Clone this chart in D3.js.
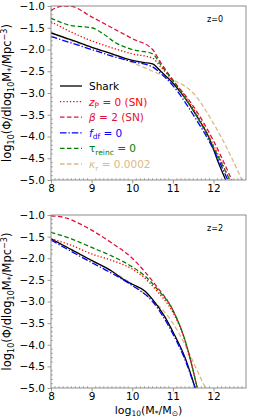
<!DOCTYPE html>
<html>
<head>
<meta charset="utf-8">
<script src="https://cdn.jsdelivr.net/npm/d3@7"></script>
<style>
  body { margin: 0; background: #fff; }
  svg { display: block; font-family: 'DejaVu Sans', sans-serif; }
</style>
</head>
<body>
<script>
// x / y ticks
const xTicks = [8, 9, 10, 11, 12];
const yTicks = [-1.0, -1.5, -2.0, -2.5, -3.0, -3.5, -4.0, -4.5, -5.0];
const panelLabels = ['z=0', 'z=2'];

// model variants (legend order)
const models = ['shark', 'zp', 'beta', 'fdf', 'tau', 'kappa'];

// z=0 mass functions, [log10 M*, log10 Phi]
const z0Shark = [[8,-1.62],[8.5,-1.78],[9,-1.95],[9.5,-2.1],[10,-2.25],[10.3,-2.3],[10.5,-2.33],[10.7,-2.5],[11,-2.77],[11.3,-3.12],[11.6,-3.55],[11.9,-4.05],[12.1,-4.55],[12.3,-5.0]];
const z0Zp = [[8,-1.36],[8.5,-1.6],[9,-1.8],[9.5,-1.96],[10,-2.1],[10.5,-2.2],[10.7,-2.4],[11,-2.72],[11.5,-3.35],[12,-4.2],[12.4,-5.0]];
const z0Beta = [[8,-1.1],[8.3,-1.0],[8.5,-1.01],[9,-1.25],[9.5,-1.5],[10,-1.75],[10.5,-2.0],[10.7,-2.3],[11,-2.7],[11.5,-3.3],[12,-4.1],[12.45,-5.0]];
const z0Fdf = [[8,-1.7],[8.5,-1.85],[9,-2.0],[9.5,-2.15],[10,-2.28],[10.5,-2.4],[10.7,-2.55],[11,-2.83],[11.5,-3.5],[12,-4.3],[12.35,-5.0]];
const z0Tau = [[8,-1.28],[8.5,-1.45],[9,-1.5],[9.3,-1.65],[9.6,-1.85],[10,-2.0],[10.5,-2.1],[10.7,-2.35],[11,-2.72],[11.5,-3.4],[12,-4.25],[12.4,-5.0]];
const z0Kappa = [[8,-1.6],[8.5,-1.8],[9,-1.95],[9.5,-2.1],[10,-2.3],[10.5,-2.5],[11,-2.7],[11.5,-3.0],[12,-3.7],[12.4,-4.4],[12.7,-5.0]];

// z=2 mass functions
const z2Shark = [[8,-1.55],[8.5,-1.8],[9,-2.05],[9.5,-2.3],[9.8,-2.5],[10,-2.6],[10.3,-2.75],[10.5,-2.95],[10.8,-3.35],[11,-3.7],[11.3,-4.3],[11.55,-5.0]];
const z2Zp = [[8,-1.55],[8.5,-1.7],[9,-1.9],[9.5,-2.05],[10,-2.25],[10.3,-2.45],[10.6,-2.75],[11,-3.25],[11.3,-3.9],[11.6,-5.0]];
const z2Beta = [[8,-1.02],[8.3,-1.05],[8.7,-1.2],[9,-1.35],[9.5,-1.65],[10,-2.0],[10.3,-2.3],[10.6,-2.65],[11,-3.2],[11.3,-3.9],[11.6,-5.0]];
const z2Fdf = [[8,-1.58],[9,-2.1],[9.5,-2.35],[10,-2.63],[10.5,-3.0],[11,-3.75],[11.3,-4.35],[11.55,-5.0]];
const z2Tau = [[8,-1.4],[8.5,-1.55],[9,-1.75],[9.5,-1.95],[10,-2.2],[10.3,-2.4],[10.6,-2.7],[11,-3.2],[11.3,-3.9],[11.6,-5.0]];
const z2Kappa = [[8,-1.55],[9,-2.05],[10,-2.6],[10.4,-2.9],[10.8,-3.25],[11,-3.5],[11.3,-4.0],[11.6,-4.6],[11.8,-5.0]];

const panelData = [
  [z0Shark, z0Zp, z0Beta, z0Fdf, z0Tau, z0Kappa],
  [z2Shark, z2Zp, z2Beta, z2Fdf, z2Tau, z2Kappa]
];

const styles = {
  shark: {color: '#000000', dash: null},
  zp:    {color: '#ff0000', dash: '1.3,2'},
  beta:  {color: '#dc143c', dash: '4.5,2.5'},
  fdf:   {color: '#0000ff', dash: '6.5,2,1.3,2'},
  tau:   {color: '#008000', dash: '4.5,2.5'},
  kappa: {color: '#deb887', dash: '4.5,2.5'}
};

const W = 269, H = 418;
const LEFT = 51, RIGHT = 246;
const PANELS = [{top: 6, bottom: 180}, {top: 215, bottom: 388}];
const AXIS_COLOR = '#808080';

const svg = d3.select('body').append('svg').attr('width', W).attr('height', H);

const x = d3.scaleLinear().domain([8, 12.8]).range([LEFT, RIGHT]);

PANELS.forEach((p, pi) => {
  const y = d3.scaleLinear().domain([-5, -1]).range([p.bottom, p.top]);
  const g = svg.append('g');

  g.append('defs').append('clipPath').attr('id', 'clip' + pi)
    .append('rect').attr('x', LEFT).attr('y', p.top)
    .attr('width', RIGHT - LEFT).attr('height', p.bottom - p.top);

  const line = d3.line().x(d => x(d[0])).y(d => y(d[1])).curve(d3.curveMonotoneX);

  const curves = g.append('g').attr('clip-path', 'url(#clip' + pi + ')');
  // draw kappa first so the others sit on top
  [5, 0, 1, 2, 4, 3].forEach(i => {
    const s = styles[models[i]];
    curves.append('path')
      .attr('d', line(panelData[pi][i]))
      .attr('fill', 'none')
      .attr('stroke', s.color)
      .attr('stroke-width', 1.3)
      .attr('stroke-dasharray', s.dash);
  });

  // minor ticks (inward)
  const xMinor = d3.range(80, 128).map(v => v / 10).filter(v => v % 1 !== 0);
  g.selectAll('line.xminor').data(xMinor).enter().append('line')
    .attr('x1', d => x(d)).attr('x2', d => x(d))
    .attr('y1', p.bottom).attr('y2', p.bottom - 2)
    .attr('stroke', AXIS_COLOR).attr('stroke-width', 0.6);
  const yMinor = d3.range(-50, -9).map(v => v / 10).filter(v => Math.abs(v * 2 % 1) > 1e-6);
  g.selectAll('line.yminor').data(yMinor).enter().append('line')
    .attr('x1', LEFT).attr('x2', LEFT + 2)
    .attr('y1', d => y(d)).attr('y2', d => y(d))
    .attr('stroke', AXIS_COLOR).attr('stroke-width', 0.6);

  // axes
  const xAxis = g.append('g').attr('transform', `translate(0,${p.bottom})`)
    .call(d3.axisBottom(x).tickValues(xTicks).tickSize(3.5).tickPadding(1.5).tickFormat(d3.format('d')));
  const yAxis = g.append('g').attr('transform', `translate(${LEFT},0)`)
    .call(d3.axisLeft(y).tickValues(yTicks).tickSize(3.5).tickPadding(2.5)
      .tickFormat(d => d3.format('.1f')(d).replace('-', '\u2212')));
  [xAxis, yAxis].forEach(a => {
    a.select('.domain').remove();
    a.selectAll('.tick line').attr('stroke', AXIS_COLOR).attr('stroke-width', 0.8);
    a.selectAll('.tick text').attr('font-size', '10.5px').attr('fill', '#000')
      .attr('font-family', 'DejaVu Sans, sans-serif');
  });

  g.append('rect').attr('x', LEFT).attr('y', p.top)
    .attr('width', RIGHT - LEFT).attr('height', p.bottom - p.top)
    .attr('fill', 'none').attr('stroke', AXIS_COLOR).attr('stroke-width', 0.9);

  g.append('text').attr('x', 215).attr('y', p.top + 16)
    .attr('text-anchor', 'middle').attr('font-size', '8px').text(panelLabels[pi]);

  // y label
  const yl = g.append('text')
    .attr('transform', `translate(11,${(p.top + p.bottom) / 2}) rotate(-90)`)
    .attr('text-anchor', 'middle').attr('font-size', '11.5px');
  yl.append('tspan').text('log');
  yl.append('tspan').attr('font-size', '8px').attr('dy', 2.5).text('10');
  yl.append('tspan').attr('dy', -2.5).text('(\u03A6/dlog');
  yl.append('tspan').attr('font-size', '8px').attr('dy', 2.5).text('10');
  yl.append('tspan').attr('dy', -2.5).text('M');
  yl.append('tspan').attr('font-size', '8px').attr('dy', 2.5).text('*');
  yl.append('tspan').attr('dy', -2.5).text('/Mpc');
  yl.append('tspan').attr('font-size', '8px').attr('dy', -4.5).text('\u22123');
  yl.append('tspan').attr('dy', 4.5).text(')');
});

// x label
const xl = svg.append('text').attr('x', (LEFT + RIGHT) / 2).attr('y', 413.5)
  .attr('text-anchor', 'middle').attr('font-size', '11px');
xl.append('tspan').text('log');
xl.append('tspan').attr('font-size', '7.5px').attr('dy', 2.5).text('10');
xl.append('tspan').attr('dy', -2.5).text('(M');
xl.append('tspan').attr('font-size', '7.5px').attr('dy', 2.5).text('*');
xl.append('tspan').attr('dy', -2.5).text('/M');
xl.append('tspan').attr('font-size', '7.5px').attr('dy', 2.5).text('\u2299');
xl.append('tspan').attr('dy', -2.5).text(')');

// legend in top panel
const legendLabels = [
  [{t: 'Shark'}],
  [{t: 'z', i: true}, {t: 'P', sub: true}, {t: ' = 0 (SN)'}],
  [{t: '\u03B2', i: true}, {t: ' = 2 (SN)'}],
  [{t: 'f', i: true}, {t: 'df', sub: true}, {t: ' = 0'}],
  [{t: '\u03C4'}, {t: 'reinc', sub: true}, {t: ' = 0'}],
  [{t: '\u03BA', i: true}, {t: 'r', sub: true}, {t: ' = 0.0002'}]
];
const legend = svg.append('g');
models.forEach((m, i) => {
  const ly = 86 + i * 15.6;
  const s = styles[m];
  legend.append('line').attr('x1', 60).attr('x2', 82).attr('y1', ly).attr('y2', ly)
    .attr('stroke', s.color).attr('stroke-width', 1.3).attr('stroke-dasharray', s.dash);
  const t = legend.append('text').attr('x', 89).attr('y', ly + 4)
    .attr('font-size', '10.5px').attr('fill', m === 'shark' ? '#000' : s.color);
  let shifted = false;
  legendLabels[i].forEach(part => {
    const ts = t.append('tspan').text(part.t);
    if (part.i) ts.attr('font-style', 'italic');
    if (part.sub) { ts.attr('font-size', '7.5px').attr('dy', 2.5); shifted = true; }
    else if (shifted) { ts.attr('dy', -2.5); shifted = false; }
  });
});
</script>
</body>
</html>
